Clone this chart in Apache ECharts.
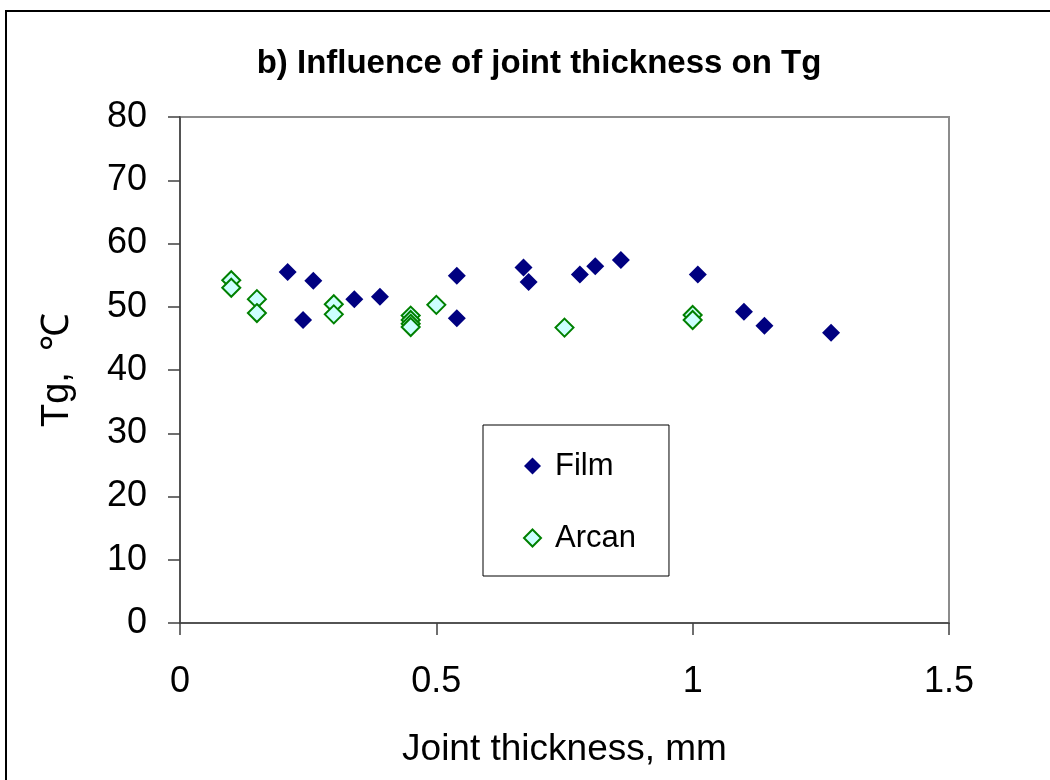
<!DOCTYPE html>
<html>
<head>
<meta charset="utf-8">
<script src="https://cdn.jsdelivr.net/npm/echarts@6/dist/echarts.min.js"></script>
<style>
  html, body { margin: 0; padding: 0; background: #fff; }
  #chart { width: 1050px; height: 780px; }
</style>
</head>
<body>
<div id="chart"></div>
<script>
// Joint thickness (mm) and glass transition temperature Tg (°C)
const filmThickness = [0.21, 0.24, 0.26, 0.34, 0.39, 0.54, 0.54, 0.67, 0.68, 0.78, 0.81, 0.86, 1.01, 1.10, 1.14, 1.27];
const filmTg        = [55.5, 47.9, 54.1, 51.2, 51.6, 54.9, 48.2, 56.2, 53.9, 55.1, 56.4, 57.4, 55.1, 49.2, 47.0, 45.9];

const arcanThickness = [0.10, 0.10, 0.15, 0.15, 0.30, 0.30, 0.45, 0.45, 0.45, 0.45, 0.50, 0.75, 1.00, 1.00];
const arcanTg        = [54.2, 53.0, 51.2, 49.0, 50.4, 48.8, 48.6, 47.9, 47.3, 46.8, 50.3, 46.7, 48.7, 47.9];

const xTicks = [0, 0.5, 1, 1.5];
const yTicks = [0, 10, 20, 30, 40, 50, 60, 70, 80];

const pairs = (xs, ys) => xs.map((x, i) => [x, ys[i]]);
const font = 'Arial, "Liberation Sans", sans-serif';

const chart = echarts.init(document.getElementById('chart'));
chart.setOption({
  backgroundColor: '#fff',
  animation: false,
  title: {
    text: 'b) Influence of joint thickness on Tg',
    left: 534, top: 42, textAlign: 'center',
    textStyle: { fontFamily: font, fontSize: 33, fontWeight: 'bold', color: '#000' }
  },
  graphic: [{
    type: 'rect', z: 100,
    shape: { x: 6, y: 11, width: 1100, height: 900 },
    style: { fill: 'none', stroke: '#000', lineWidth: 2 }
  }],
  grid: {
    left: 180, top: 117, right: 101, bottom: 157,
    show: true, borderColor: '#8c8c8c', borderWidth: 2, backgroundColor: '#fff'
  },
  xAxis: {
    type: 'value', min: xTicks[0], max: xTicks[xTicks.length - 1], interval: 0.5,
    name: 'Joint thickness, mm', nameLocation: 'middle', nameGap: 108,
    nameTextStyle: { fontFamily: font, fontSize: 37, color: '#000' },
    axisLine: { show: true, onZero: false, lineStyle: { color: '#404040', width: 1.5 } },
    axisTick: { show: true, length: 12, lineStyle: { color: '#404040', width: 1.5 } },
    axisLabel: { fontFamily: font, fontSize: 36, color: '#000', margin: 41 },
    splitLine: { show: false }
  },
  yAxis: {
    type: 'value', min: yTicks[0], max: yTicks[yTicks.length - 1], interval: 10,
    name: 'Tg,  \u2103', nameLocation: 'middle', nameGap: 103, nameRotate: 90,
    nameTextStyle: { fontFamily: font, fontSize: 38, color: '#000' },
    axisLine: { show: true, onZero: false, lineStyle: { color: '#404040', width: 1.5 } },
    axisTick: { show: true, length: 12, lineStyle: { color: '#404040', width: 1.5 } },
    axisLabel: { fontFamily: font, fontSize: 36, color: '#000', margin: 33 },
    splitLine: { show: false }
  },
  legend: {
    orient: 'vertical', left: 483, top: 425,
    padding: [25, 33, 22, 40], itemGap: 40,
    itemWidth: 17, itemHeight: 17,
    borderColor: '#000', borderWidth: 1, backgroundColor: '#fff',
    textStyle: { fontFamily: font, fontSize: 31, color: '#000', lineHeight: 32, padding: [0, 0, 0, 9] },
    data: ['Film', 'Arcan']
  },
  series: [
    {
      name: 'Film', type: 'scatter', symbol: 'diamond', symbolSize: 18,
      itemStyle: { color: '#000080', opacity: 1 },
      data: pairs(filmThickness, filmTg)
    },
    {
      name: 'Arcan', type: 'scatter', symbol: 'diamond', symbolSize: 18,
      itemStyle: { color: '#ccffff', borderColor: '#008000', borderWidth: 2, opacity: 1 },
      data: pairs(arcanThickness, arcanTg)
    }
  ]
});
</script>
</body>
</html>
